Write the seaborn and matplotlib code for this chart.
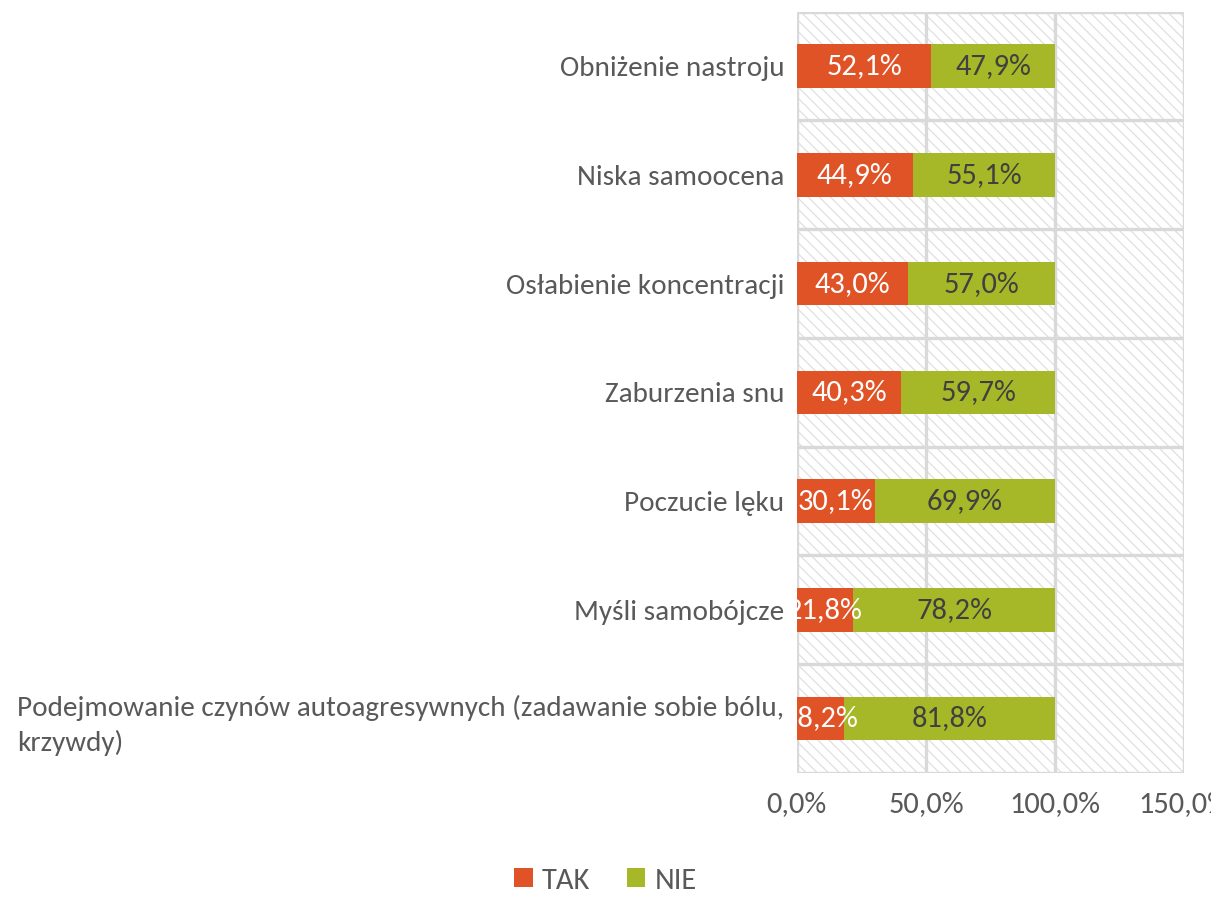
import matplotlib
matplotlib.use("Agg")
import matplotlib.pyplot as plt
from matplotlib.patches import Rectangle, Patch
import seaborn as sns
import pandas as pd

categories = [
    "Obniżenie nastroju",
    "Niska samoocena",
    "Osłabienie koncentracji",
    "Zaburzenia snu",
    "Poczucie lęku",
    "Myśli samobójcze",
    "Podejmowanie czynów autoagresywnych (zadawanie sobie bólu,\nkrzywdy)",
]
tak = [52.1, 44.9, 43.0, 40.3, 30.1, 21.8, 18.2]
nie = [47.9, 55.1, 57.0, 59.7, 69.9, 78.2, 81.8]
series_names = ["TAK", "NIE"]
xticks = [0, 50, 100, 150]

C_TAK = "#e05327"
C_NIE = "#a6b727"
GRID = "#d9d9d9"
TXT = "#595959"
FS = 22

sns.set_theme(style="white")
plt.rcParams["font.family"] = ["Carlito", "DejaVu Sans"]
plt.rcParams["hatch.linewidth"] = 0.9

df = pd.DataFrame({"kategoria": categories, "TAK": tak, "NIE": nie})
df["razem"] = df["TAK"] + df["NIE"]

fig = plt.figure(figsize=(12.11, 9.05), dpi=100)
ax = fig.add_axes([0.658, 0.146, 0.320, 0.841])

# hatched plot area background
ax.add_patch(Rectangle((0, 0), 1, 1, transform=ax.transAxes, facecolor="white",
                       edgecolor="#e0e0e0", hatch="\\\\\\", linewidth=0, zorder=0))

# stacked bars: full total in green, TAK share on top in orange
sns.barplot(data=df, x="razem", y="kategoria", color=C_NIE, width=0.4,
            saturation=1, ax=ax, zorder=3, orient="h", linewidth=0)
sns.barplot(data=df, x="TAK", y="kategoria", color=C_TAK, width=0.4,
            saturation=1, ax=ax, zorder=4, orient="h", linewidth=0)

ax.set_xlim(0, 150)
n = len(categories)
ax.set_ylim(n - 0.5, -0.5)

# value labels
for i, (t, v) in enumerate(zip(tak, nie)):
    ax.text(t / 2, i, f"{t:.1f}%".replace(".", ","), ha="center", va="center",
            color="white", fontsize=FS, zorder=6)
    ax.text(t + v / 2, i, f"{v:.1f}%".replace(".", ","), ha="center", va="center",
            color="#404040", fontsize=FS, zorder=6)

# grid: vertical value lines and horizontal lines between categories
for xv in xticks:
    ax.axvline(xv, color=GRID, lw=2.4, zorder=1)
for k in range(n + 1):
    ax.axhline(k - 0.5, color=GRID, lw=2.4, zorder=1)

for s in ax.spines.values():
    s.set_visible(False)

ax.set_xticks(xticks)
ax.set_xticklabels([f"{x:.1f}%".replace(".", ",") for x in xticks])
ax.tick_params(axis="x", length=0, pad=13, labelsize=FS, labelcolor=TXT)
ax.tick_params(axis="y", length=0, pad=9, labelsize=21, labelcolor=TXT)
for lab in ax.get_yticklabels():
    lab.set_multialignment("left")
    lab.set_linespacing(1.4)
ax.set_xlabel("")
ax.set_ylabel("")

handles = [Patch(facecolor=C_TAK, edgecolor="none"), Patch(facecolor=C_NIE, edgecolor="none")]
fig.legend(handles, series_names, loc="center", bbox_to_anchor=(0.5, 0.027), ncol=2,
           frameon=False, fontsize=FS, labelcolor=TXT, handlelength=0.6, handleheight=0.6,
           handletextpad=0.3, columnspacing=1.2)

fig.savefig("out.png", dpi=100)
